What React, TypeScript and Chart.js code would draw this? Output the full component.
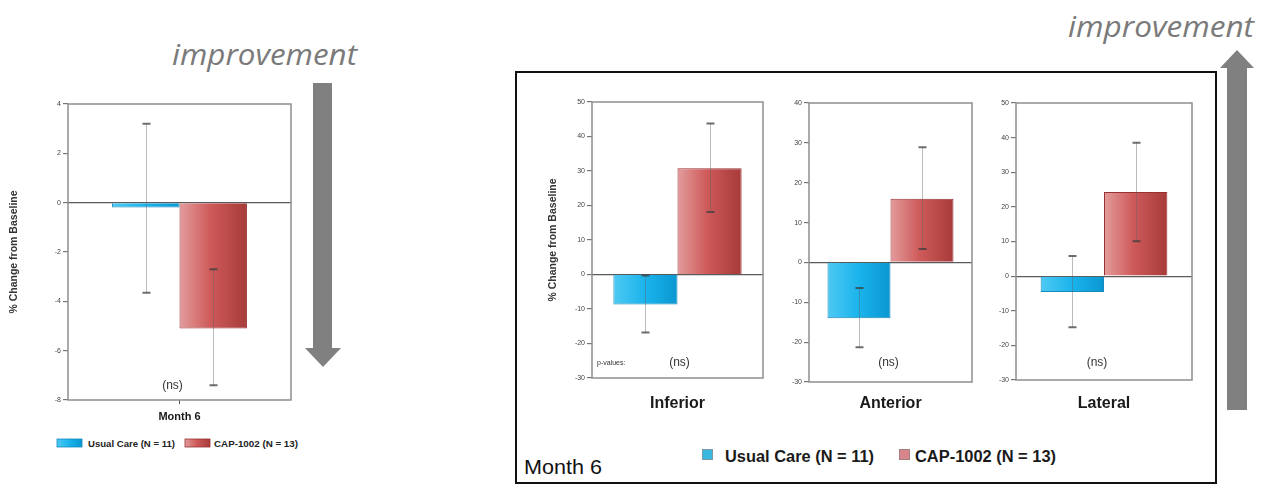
import React, { useEffect, useRef } from 'react';
import { Chart, registerables } from 'chart.js';

Chart.register(...registerables);

// ---------- DATA ----------
// Left chart: overall, Month 6
const overallCategories = ['Month 6'];
const overallUsualCare = [-0.2];
const overallUsualCareLow = [-3.65];
const overallUsualCareHigh = [3.2];
const overallCap = [-5.1];
const overallCapLow = [-7.4];
const overallCapHigh = [-2.7];
const overallYTicks = [-8, -6, -4, -2, 0, 2, 4];
const overallSignificance = ['(ns)'];

// Right charts: regional, Month 6
const regionCategories = ['Inferior', 'Anterior', 'Lateral'];
const regionUsualCare = [-8.7, -14, -4.6];
const regionUsualCareLow = [-16.8, -21.3, -14.8];
const regionUsualCareHigh = [-0.3, -6.4, 5.8];
const regionCap = [30.8, 16, 24.3];
const regionCapLow = [18.1, 3.4, 10.1];
const regionCapHigh = [43.8, 28.9, 38.5];
const inferiorYTicks = [-30, -20, -10, 0, 10, 20, 30, 40, 50];
const anteriorYTicks = [-30, -20, -10, 0, 10, 20, 30, 40];
const lateralYTicks = [-30, -20, -10, 0, 10, 20, 30, 40, 50];
const regionSignificance = ['(ns)', '(ns)', '(ns)'];

const seriesLabels = ['Usual Care (N = 11)', 'CAP-1002 (N = 13)'];
const yAxisTitle = '% Change from Baseline';
const pValuesLabel = 'p-values:';
const improvementLabel = 'improvement';
const boxTitle = 'Month 6';

// ---------- STYLE ----------
const FONT = '"Liberation Sans", Arial, Helvetica, sans-serif';
const blueStops: [number, string][] = [[0, '#4ec9f3'], [0.5, '#1ab3ec'], [1, '#0a97d1']];
const redStops: [number, string][] = [[0, '#e39c9c'], [0.45, '#cf5b5b'], [1, '#a73a3a']];

type Rect = { x: number; y: number; w: number; h: number };
type Area = { l: number; t: number; r: number; b: number };

type PanelProps = {
  categories: string[];
  usual: number[];
  usualLow: number[];
  usualHigh: number[];
  cap: number[];
  capLow: number[];
  capHigh: number[];
  yTicks: number[];
  significance: string;
  showPValues: boolean;
  canvas: Rect;
  area: Area;
  catPct: number;
  yTitle: string | null;
  yTitleCenterX: number;
  xFontSize: number;
  xLabelCenterY: number;
  xTickMark: boolean;
  nsDx: number;
  nsFromBottom: number;
};

const decorPlugin = {
  id: 'decor',
  beforeDatasetsDraw(chart: any) {
    const { ctx, chartArea: a } = chart;
    chart.data.datasets.forEach((ds: any, di: number) => {
      const meta = chart.getDatasetMeta(di);
      meta.data.forEach((el: any) => {
        const half = el.width / 2;
        const g = ctx.createLinearGradient(el.x - half, 0, el.x + half, 0);
        ds.gradientStops.forEach(([o, c]: [number, string]) => g.addColorStop(o, c));
        if (el.options && !Object.isFrozen(el.options)) el.options.backgroundColor = g;
      });
    });
    ctx.save();
    ctx.strokeStyle = '#8e8e8e';
    ctx.lineWidth = 1.5;
    ctx.strokeRect(a.left, a.top, a.right - a.left, a.bottom - a.top);
    ctx.restore();
  },
  afterDatasetsDraw(chart: any, _args: any, opts: any) {
    const { ctx, chartArea: a } = chart;
    const ys = chart.scales.y;
    const xs = chart.scales.x;
    ctx.save();
    chart.data.datasets.forEach((ds: any, di: number) => {
      const meta = chart.getDatasetMeta(di);
      meta.data.forEach((el: any, i: number) => {
        const x = Math.round(el.x) + 0.5;
        const yl = ys.getPixelForValue(ds.errLow[i]);
        const yh = ys.getPixelForValue(ds.errHigh[i]);
        ctx.strokeStyle = 'rgba(95,95,95,0.42)';
        ctx.lineWidth = 1;
        ctx.beginPath();
        ctx.moveTo(x, yh);
        ctx.lineTo(x, yl);
        ctx.stroke();
        ctx.strokeStyle = 'rgba(60,60,60,0.75)';
        ctx.lineWidth = 2;
        ctx.beginPath();
        ctx.moveTo(x - 4, yl);
        ctx.lineTo(x + 4, yl);
        ctx.moveTo(x - 4, yh);
        ctx.lineTo(x + 4, yh);
        ctx.stroke();
      });
    });
    const ty = a.bottom - opts.nsFromBottom;
    ctx.fillStyle = '#333';
    ctx.textBaseline = 'middle';
    ctx.textAlign = 'center';
    ctx.font = `12px ${FONT}`;
    ctx.fillText(opts.significance, xs.getPixelForValue(0) + opts.nsDx, ty);
    if (opts.showPValues) {
      ctx.textAlign = 'left';
      ctx.font = `7px ${FONT}`;
      ctx.fillText(pValuesLabel, a.left + 5, ty);
    }
    ctx.restore();
  },
};

function BarPanel(p: PanelProps) {
  const ref = useRef<HTMLCanvasElement>(null);
  useEffect(() => {
    const { canvas, area } = p;
    const yW = area.l - canvas.x;
    const xH = canvas.y + canvas.h - area.b;
    const tickLen = p.xTickMark ? 4 : 0;
    const xPad = p.xLabelCenterY - area.b - tickLen - (p.xFontSize * 1.2) / 2;
    const titleLH = 10.5 * 1.2;
    const titlePadTop = p.yTitleCenterX - canvas.x - titleLH / 2;
    const chart = new Chart(ref.current as HTMLCanvasElement, {
      type: 'bar',
      data: {
        labels: p.categories,
        datasets: [
          {
            label: seriesLabels[0],
            data: p.usual,
            errLow: p.usualLow,
            errHigh: p.usualHigh,
            gradientStops: blueStops,
            backgroundColor: () => '#1ab3ec',
            borderColor: '#1789bb',
            borderWidth: 1,
            categoryPercentage: p.catPct,
            barPercentage: 1,
          } as any,
          {
            label: seriesLabels[1],
            data: p.cap,
            errLow: p.capLow,
            errHigh: p.capHigh,
            gradientStops: redStops,
            backgroundColor: () => '#cf5b5b',
            borderColor: '#983232',
            borderWidth: 1,
            categoryPercentage: p.catPct,
            barPercentage: 1,
          } as any,
        ],
      },
      options: {
        responsive: false,
        animation: false,
        events: [],
        layout: {
          padding: { left: 0, top: area.t - canvas.y, right: canvas.x + canvas.w - area.r, bottom: 0 },
        },
        plugins: {
          legend: { display: false },
          tooltip: { enabled: false },
          decor: {
            significance: p.significance,
            showPValues: p.showPValues,
            nsDx: p.nsDx,
            nsFromBottom: p.nsFromBottom,
          },
        } as any,
        scales: {
          x: {
            grid: {
              display: p.xTickMark,
              drawOnChartArea: false,
              drawTicks: p.xTickMark,
              tickLength: 4,
              offset: false,
              color: '#555',
            },
            border: { display: false },
            ticks: {
              color: '#1a1a1a',
              font: { family: FONT, size: p.xFontSize, weight: 'bold' },
              padding: xPad,
              maxRotation: 0,
            },
            afterFit: (s: any) => {
              s.height = xH;
            },
          },
          y: {
            min: p.yTicks[0],
            max: p.yTicks[p.yTicks.length - 1],
            afterBuildTicks: (s: any) => {
              s.ticks = p.yTicks.map((v) => ({ value: v }));
            },
            grid: {
              color: (c: any) => (c.tick && c.tick.value === 0 ? '#5a5a5a' : 'rgba(0,0,0,0)'),
              tickColor: '#777',
              tickLength: 5,
              lineWidth: 1.2,
            },
            border: { display: false },
            ticks: {
              color: '#444',
              font: { family: FONT, size: 7 },
              padding: 2,
            },
            title: {
              display: !!p.yTitle,
              text: p.yTitle || '',
              color: '#333',
              font: { family: FONT, size: 10.5, weight: 'bold' },
              padding: { top: titlePadTop, bottom: 0 },
            },
            afterFit: (s: any) => {
              s.width = yW;
            },
          },
        },
      } as any,
      plugins: [decorPlugin as any],
    });
    return () => chart.destroy();
  }, []);
  return (
    <canvas
      ref={ref}
      width={p.canvas.w}
      height={p.canvas.h}
      style={{ position: 'absolute', left: p.canvas.x, top: p.canvas.y, width: p.canvas.w, height: p.canvas.h }}
    />
  );
}

const regionTicks = [inferiorYTicks, anteriorYTicks, lateralYTicks];
const regionCanvas: Rect[] = [
  { x: 520, y: 88, w: 250, h: 340 },
  { x: 770, y: 88, w: 210, h: 340 },
  { x: 985, y: 88, w: 215, h: 340 },
];
const regionArea: Area[] = [
  { l: 592, t: 102, r: 763, b: 378 },
  { l: 809, t: 103, r: 972, b: 382 },
  { l: 1016, t: 103, r: 1192, b: 380 },
];
const regionCatPct = [0.75, 0.773, 0.72];
const regionNsDx = [2, -2, -7];
const regionNsFromBottom = [15, 19, 17];

export default function App() {
  const textFont = FONT;
  return (
    <div style={{ position: 'absolute', left: 0, top: 0, width: 1261, height: 485, background: '#fff', overflow: 'hidden' }}>
      <svg width={1261} height={485} style={{ position: 'absolute', left: 0, top: 0 }}>
        <defs>
          <linearGradient id="gBlue" x1="0" x2="1" y1="0" y2="0">
            {blueStops.map(([o, c]) => (
              <stop key={o} offset={o} stopColor={c} />
            ))}
          </linearGradient>
          <linearGradient id="gRed" x1="0" x2="1" y1="0" y2="0">
            {redStops.map(([o, c]) => (
              <stop key={o} offset={o} stopColor={c} />
            ))}
          </linearGradient>
        </defs>
        {/* left improvement arrow */}
        <text x={172} y={65} fontFamily="'Open Sans', sans-serif" fontStyle="italic" fontSize={30} fill="#7a7a7a" textLength={185} lengthAdjust="spacingAndGlyphs">
          {improvementLabel}
        </text>
        <rect x={313} y={83} width={19} height={266} fill="#808080" />
        <polygon points="305,348 341,348 323,367" fill="#808080" />
        {/* right improvement arrow */}
        <text x={1068} y={37} fontFamily="'Open Sans', sans-serif" fontStyle="italic" fontSize={30} fill="#7a7a7a" textLength={186} lengthAdjust="spacingAndGlyphs">
          {improvementLabel}
        </text>
        <rect x={1227} y={67} width={20} height={343} fill="#808080" />
        <polygon points="1220,68 1254,68 1237,50" fill="#808080" />
        {/* box */}
        <rect x={516} y={72} width={700} height={411} fill="none" stroke="#111" strokeWidth={2} />
        <text x={524} y={474} fontFamily={textFont} fontSize={21} fill="#111" textLength={78} lengthAdjust="spacingAndGlyphs">
          {boxTitle}
        </text>
        {/* right legend */}
        <rect x={702.5} y={449.5} width={10} height={10} fill="#3bb8df" stroke="#7c9aa6" strokeWidth={1} />
        <text x={725} y={462} fontFamily={textFont} fontWeight="bold" fontSize={16} fill="#1a1a1a" textLength={149} lengthAdjust="spacingAndGlyphs">
          {seriesLabels[0]}
        </text>
        <rect x={899.5} y={449.5} width={10} height={10} fill="#d8858b" stroke="#a08080" strokeWidth={1} />
        <text x={915} y={462} fontFamily={textFont} fontWeight="bold" fontSize={16} fill="#1a1a1a" textLength={141} lengthAdjust="spacingAndGlyphs">
          {seriesLabels[1]}
        </text>
        {/* left legend */}
        <rect x={57} y={439} width={25} height={8} fill="url(#gBlue)" stroke="#1789bb" strokeWidth={0.8} />
        <text x={88} y={446.5} fontFamily={textFont} fontWeight="bold" fontSize={9.5} fill="#222" textLength={87} lengthAdjust="spacingAndGlyphs">
          {seriesLabels[0]}
        </text>
        <rect x={185} y={439} width={25} height={8} fill="url(#gRed)" stroke="#983232" strokeWidth={0.8} />
        <text x={214} y={446.5} fontFamily={textFont} fontWeight="bold" fontSize={9.5} fill="#222" textLength={84} lengthAdjust="spacingAndGlyphs">
          {seriesLabels[1]}
        </text>
      </svg>

      <BarPanel
        categories={overallCategories}
        usual={overallUsualCare}
        usualLow={overallUsualCareLow}
        usualHigh={overallUsualCareHigh}
        cap={overallCap}
        capLow={overallCapLow}
        capHigh={overallCapHigh}
        yTicks={overallYTicks}
        significance={overallSignificance[0]}
        showPValues={false}
        canvas={{ x: 0, y: 92, w: 300, h: 343 }}
        area={{ l: 68, t: 104, r: 291, b: 400 }}
        catPct={0.605}
        yTitle={yAxisTitle}
        yTitleCenterX={14}
        xFontSize={11}
        xLabelCenterY={417}
        xTickMark={true}
        nsDx={-7}
        nsFromBottom={14}
      />
      {regionCategories.map((cat, i) => (
        <BarPanel
          key={cat}
          categories={[cat]}
          usual={[regionUsualCare[i]]}
          usualLow={[regionUsualCareLow[i]]}
          usualHigh={[regionUsualCareHigh[i]]}
          cap={[regionCap[i]]}
          capLow={[regionCapLow[i]]}
          capHigh={[regionCapHigh[i]]}
          yTicks={regionTicks[i]}
          significance={regionSignificance[i]}
          showPValues={i === 0}
          canvas={regionCanvas[i]}
          area={regionArea[i]}
          catPct={regionCatPct[i]}
          yTitle={i === 0 ? yAxisTitle : null}
          yTitleCenterX={553}
          xFontSize={16}
          xLabelCenterY={404}
          xTickMark={false}
          nsDx={regionNsDx[i]}
          nsFromBottom={regionNsFromBottom[i]}
        />
      ))}
    </div>
  );
}
